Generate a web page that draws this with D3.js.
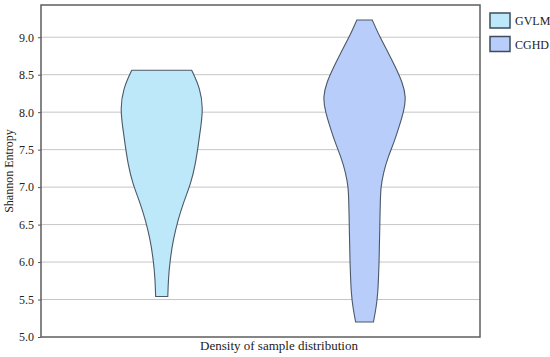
<!DOCTYPE html>
<html>
<head>
<meta charset="utf-8">
<script src="https://cdn.jsdelivr.net/npm/d3@7"></script>
<style>
  body { margin: 0; background: #fff; }
  text { font-family: "Liberation Serif", "Times New Roman", serif; fill: #222; }
</style>
</head>
<body>
<div id="chart"></div>
<script>
// series names and colours
var seriesNames = ["GVLM", "CGHD"];
var seriesFill = ["#bde8f9", "#b8cdf9"];

// density profile of each violin: entropy value and relative density
var gvlmValues  = [5.54, 5.79, 6.04, 6.30, 6.55, 6.80, 7.05, 7.30, 7.55, 7.80, 8.05, 8.31, 8.56];
var gvlmDensity = [0.15, 0.165, 0.21, 0.285, 0.395, 0.54, 0.72, 0.83, 0.9, 0.965, 1.02, 0.955, 0.74];

var cghdValues  = [5.2, 5.4, 5.6, 5.8, 6.0, 6.2, 6.4, 6.6, 6.8, 7.0, 7.2, 7.4, 7.6, 7.8, 8.0, 8.2, 8.4, 8.6, 8.8, 9.0, 9.23];
var cghdDensity = [0.22, 0.29, 0.33, 0.345, 0.36, 0.365, 0.375, 0.38, 0.39, 0.40, 0.47, 0.58, 0.73, 0.85, 0.965, 1.03, 0.935, 0.765, 0.58, 0.38, 0.19];

// y tick labels
var yTicks = [5.0, 5.5, 6.0, 6.5, 7.0, 7.5, 8.0, 8.5, 9.0];

var width = 550, height = 357;
var margin = { top: 5, right: 70, bottom: 20, left: 41 };
var plotW = width - margin.left - margin.right;
var plotH = height - margin.top - margin.bottom;

var svg = d3.select("#chart").append("svg")
  .attr("width", width)
  .attr("height", height);

var g = svg.append("g")
  .attr("transform", "translate(" + margin.left + "," + margin.top + ")");

var y = d3.scaleLinear().domain([5.0, 9.43]).range([plotH, 0]);

var x = d3.scaleLinear().domain([0, 1]).range([0, plotW]);
var centers = [0.275, 0.737];

var w = d3.scaleLinear().domain([0, 1]).range([0, 40.5]);

// gridlines
g.append("g")
  .selectAll("line")
  .data(yTicks.slice(1))
  .enter().append("line")
  .attr("x1", 0).attr("x2", plotW)
  .attr("y1", (d) => y(d)).attr("y2", (d) => y(d))
  .attr("stroke", "#c6c6c6")
  .attr("stroke-width", 1);

// y axis
var yAxis = d3.axisLeft(y)
  .tickValues(yTicks)
  .tickFormat(d3.format(".1f"))
  .tickSize(3)
  .tickPadding(4);

var ya = g.append("g").attr("class", "y axis").call(yAxis);
ya.select(".domain").remove();
ya.selectAll("line").attr("stroke", "#555");
ya.selectAll("text").style("font-size", "12px").attr("fill", "#222");

// violins
var series = [
  { name: seriesNames[0], values: gvlmValues, density: gvlmDensity },
  { name: seriesNames[1], values: cghdValues, density: cghdDensity }
];

series.forEach(function(s, i) {
  var pts = s.values.map((v, j) => ({ v: v, d: s.density[j] }));
  var cx = x(centers[i]);
  var area = d3.area()
    .y((d) => y(d.v))
    .x0((d) => cx - w(d.d))
    .x1((d) => cx + w(d.d))
    .curve(d3.curveBasis);
  g.append("path")
    .datum(pts)
    .attr("d", area)
    .attr("fill", seriesFill[i])
    .attr("stroke", "#4b5868")
    .attr("stroke-width", 1.1);
});

// plot frame
g.append("rect")
  .attr("x", 0).attr("y", 0)
  .attr("width", plotW).attr("height", plotH)
  .attr("fill", "none")
  .attr("stroke", "#5e5e5e")
  .attr("stroke-width", 1.5);

// axis titles
svg.append("text")
  .attr("transform", "translate(13," + (margin.top + plotH / 2) + ") rotate(-90)")
  .attr("text-anchor", "middle")
  .style("font-size", "12px")
  .text("Shannon Entropy");

svg.append("text")
  .attr("x", 279)
  .attr("y", 350)
  .attr("text-anchor", "middle")
  .style("font-size", "13px")
  .text("Density of sample distribution");

// legend
var legend = svg.append("g").attr("transform", "translate(490,13)");
seriesNames.forEach(function(name, i) {
  var row = legend.append("g").attr("transform", "translate(0," + (i * 23.5) + ")");
  row.append("rect")
    .attr("width", 20).attr("height", 15)
    .attr("fill", seriesFill[i])
    .attr("stroke", "#3d4d5d")
    .attr("stroke-width", 1.5);
  row.append("text")
    .attr("x", 25).attr("y", 12)
    .style("font-size", "12px")
    .text(name);
});
</script>
</body>
</html>
